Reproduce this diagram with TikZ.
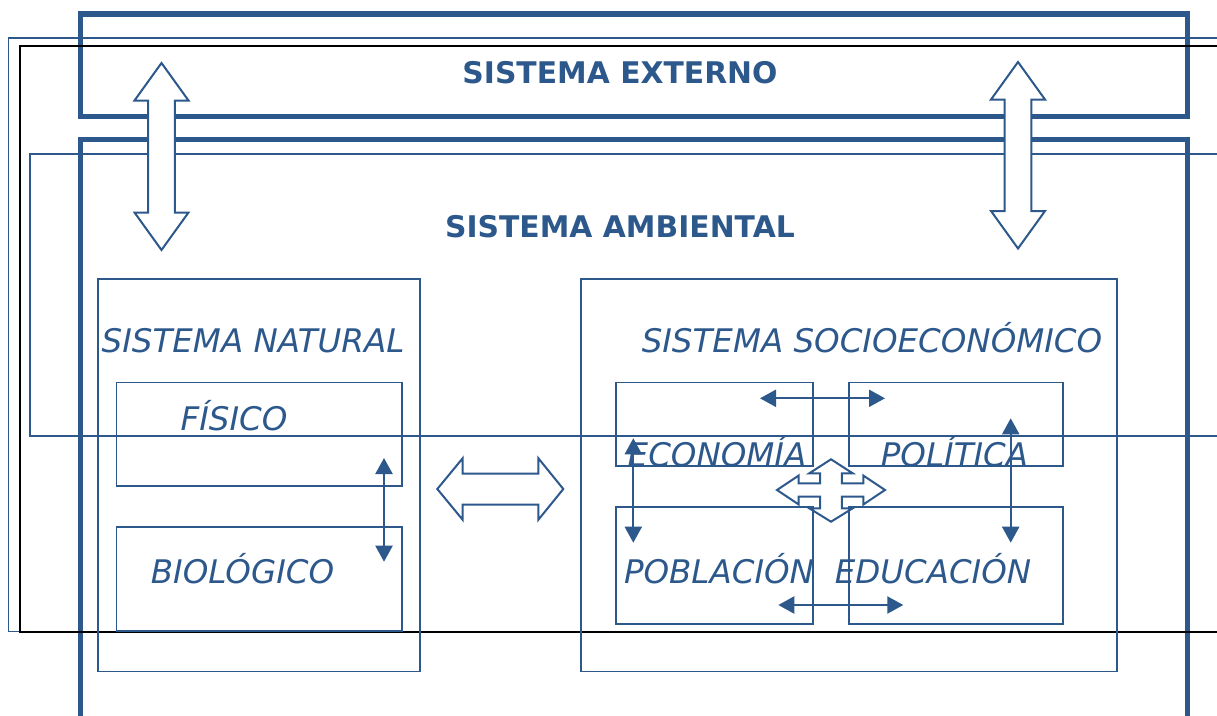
\documentclass[tikz,border=0pt]{standalone}
\usepackage{fontspec}
\setmainfont{DejaVu Sans}
\usepackage{tikz}
\usetikzlibrary{arrows.meta}
\definecolor{mainblue}{HTML}{2C588C}
\newcommand\vblockarrow[3]{
  \draw[blockarrow] (#1,#2) -- (#1+27,#2+37.5) -- (#1+13.4,#2+37.5) -- (#1+13.4,#3-37.5) -- (#1+27,#3-37.5)
    -- (#1,#3) -- (#1-27,#3-37.5) -- (#1-13.4,#3-37.5) -- (#1-13.4,#2+37.5) -- (#1-27,#2+37.5) -- cycle;
}

\begin{document}
\begin{tikzpicture}[x=1pt, y=-1pt,
  box/.style = {draw=mainblue, line width=1.9pt},
  frame/.style = {draw=mainblue, line width=5.5pt},
  blockarrow/.style = {draw=mainblue, line width=2pt, fill=white},
  link/.style = {mainblue, line width=2.2pt, {Triangle[length=16pt,width=17pt]}-{Triangle[length=16pt,width=17pt]}},
  title/.style = {text=mainblue, anchor=base, inner sep=0, font=\bfseries\fontsize{29.8}{35}\selectfont},
  boxtext/.style = {text=mainblue, anchor=base, inner sep=0, font=\itshape\fontsize{32.5}{39}\selectfont}]
	\useasboundingbox[fill=white] (0,0) rectangle (1217,715);
	\clip (0,0) rectangle (1217,715);
	\draw[frame] (80.5,14) rectangle (1187.5,116.5);
	\draw[frame] (80.5,139.5) rectangle (1187.5,740);
	\draw[mainblue, line width=1.8pt] (8.5,38) rectangle (1240,631.5);
	\draw[mainblue, line width=1.6pt] (30,154) rectangle (1240,436);
	\draw[black, line width=2pt] (19.5,46) rectangle (1240,632);
	\vblockarrow{161.5}{63}{250}
	\vblockarrow{1018}{62}{248.5}
	\draw[blockarrow] (437.3,489) -- (462.7,458.2) -- (462.7,473.5) -- (538.3,473.5) -- (538.3,458.2) -- (563.3,489)
	  -- (538.3,519.8) -- (538.3,504.5) -- (462.7,504.5) -- (462.7,519.8) -- cycle;
	\begin{scope}[shift={(831,490)}]
	\draw[blockarrow] (0,-30.7) -- (21.7,-16.7) -- (10.8,-16.7) -- (10.8,-6.7) -- (32.3,-6.7) -- (32.3,-14.5) -- (54,0)
	  -- (32.3,14.5) -- (32.3,6.7) -- (10.8,6.7) -- (10.8,18.3) -- (21.7,18.3) -- (0,31.7) -- (-21.7,18.3)
	  -- (-10.8,18.3) -- (-10.8,6.7) -- (-32.3,6.7) -- (-32.3,14.5) -- (-54,0) -- (-32.3,-14.5) -- (-32.3,-6.7)
	  -- (-10.8,-6.7) -- (-10.8,-16.7) -- (-21.7,-16.7) -- cycle;
	\end{scope}
	\draw[box] (98,279) rectangle (420,671.5);
	\draw[box] (116.5,382.5) rectangle (402.3,485.7);
	\draw[box] (116.5,527.3) rectangle (402.3,631);
	\draw[box] (581,279) rectangle (1117,671.5);
	\draw[box] (616,382.5) rectangle (813.3,465.7);
	\draw[box] (849,382.5) rectangle (1063.3,465.7);
	\draw[box] (616,506.7) rectangle (813.3,624);
	\draw[box] (849,506.7) rectangle (1063.3,624);
	\node[title] (externo) at (620,83) {SISTEMA EXTERNO};
	\node[title] (ambiental) at (620,237) {SISTEMA AMBIENTAL};
	\node[boxtext] (natural) at (253,352) {SISTEMA NATURAL};
	\node[boxtext] (socio) at (872,352) {SISTEMA SOCIOECONÓMICO};
	\node[boxtext] (fisico) at (234,430) {FÍSICO};
	\node[boxtext] (biologico) at (242.5,583) {BIOLÓGICO};
	\node[boxtext] (economia) at (717,466.7) {ECONOMÍA};
	\node[boxtext] (politica) at (954.5,466.7) {POLÍTICA};
	\node[boxtext] (poblacion) at (719,583.3) {POBLACIÓN};
	\node[boxtext] (educacion) at (933,583.3) {EDUCACIÓN};
	\coordinate (fisA) at (384,458);
	\coordinate (bioA) at (384,561.7);
	\coordinate (ecoA) at (760,398.3);
	\coordinate (polA) at (885,398.3);
	\coordinate (ecoB) at (633.3,438.3);
	\coordinate (pobA) at (633.3,542.7);
	\coordinate (polB) at (1010.7,418.3);
	\coordinate (eduA) at (1010.7,542.7);
	\coordinate (pobB) at (778.3,605);
	\coordinate (eduB) at (903.3,605);
	\draw[link] (fisA) -- (bioA);
	\draw[link] (ecoA) -- (polA);
	\draw[link] (ecoB) -- (pobA);
	\draw[link] (polB) -- (eduA);
	\draw[link] (pobB) -- (eduB);
\end{tikzpicture}
\end{document}
